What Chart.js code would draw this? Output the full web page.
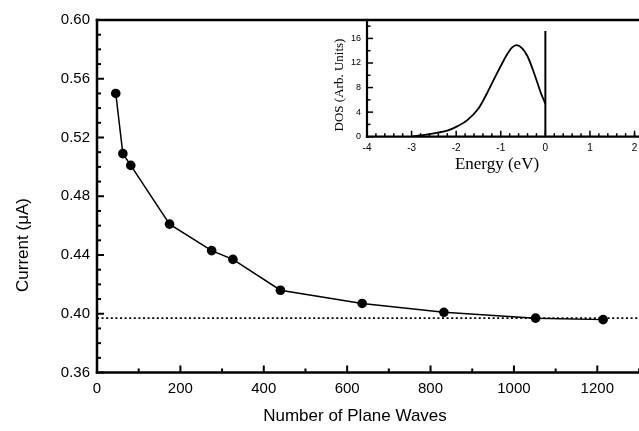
<!DOCTYPE html>
<html lang="en">
<head>
<meta charset="UTF-8">
<title>Current vs Number of Plane Waves</title>
<script src="https://cdn.jsdelivr.net/npm/chart.js"></script>
<style>
  html, body { margin: 0; padding: 0; background: #fff; }
  #wrap { position: relative; width: 639px; height: 431px; overflow: hidden; }
  #mainChart { position: absolute; left: 0; top: 0; }
  #insetChart { position: absolute; left: 300px; top: 0; }
</style>
</head>
<body>
<div id="wrap">
  <canvas id="mainChart" width="639" height="431"></canvas>
  <canvas id="insetChart" width="339" height="180"></canvas>
</div>
<script>
// main plot: current vs number of plane waves
const planeWaves = [45, 62, 81, 174, 275, 326, 440, 636, 832, 1052, 1214];
const current = [0.550, 0.509, 0.501, 0.461, 0.443, 0.437, 0.416, 0.407, 0.401, 0.397, 0.396];
const limitX = [0, 1320];
const limitY = [0.397, 0.397];
const xTicks = [0, 200, 400, 600, 800, 1000, 1200];
const xMinor = [100, 300, 500, 700, 900, 1100, 1300];
const yTicks = [0.36, 0.40, 0.44, 0.48, 0.52, 0.56, 0.60];
const yMinor = [0.37, 0.38, 0.39, 0.41, 0.42, 0.43, 0.45, 0.46, 0.47, 0.49, 0.50, 0.51,
                0.53, 0.54, 0.55, 0.57, 0.58, 0.59];

// inset: density of states
const energy = [-3.0, -2.75, -2.5, -2.2, -2.0, -1.75, -1.5, -1.3, -1.1, -0.95, -0.85, -0.75, -0.64, -0.52, -0.4, -0.25, -0.1, 0];
const dos = [0.05, 0.25, 0.55, 1.0, 1.6, 2.7, 4.6, 7.2, 10.1, 12.2, 13.5, 14.5, 14.9, 14.4, 13.1, 10.3, 7.1, 5.4];
const fermiX = [0, 0];
const fermiY = [0, 17.2];
const eTicks = [-4, -3, -2, -1, 0, 1, 2];
const eMinor = [-3.8, -3.6, -3.4, -3.2, -2.8, -2.6, -2.4, -2.2, -1.8, -1.6, -1.4, -1.2,
                -0.8, -0.6, -0.4, -0.2, 0.2, 0.4, 0.6, 0.8, 1.2, 1.4, 1.6, 1.8, 2.0];
const dosTicks = [0, 4, 8, 12, 16];
const dosMinor = [2, 6, 10, 14, 18];

Chart.defaults.font.family = '"Liberation Sans", Arial, sans-serif';
Chart.defaults.color = '#000';

const toPoints = (xs, ys) => xs.map((v, i) => ({ x: v, y: ys[i] }));

// frame + inward tick marks + axis titles
const frameTicks = {
  id: 'frameTicks',
  afterDraw(chart, args, o) {
    const { ctx, chartArea: a, scales: { x, y } } = chart;
    const line = (x1, y1, x2, y2) => { ctx.beginPath(); ctx.moveTo(x1, y1); ctx.lineTo(x2, y2); ctx.stroke(); };
    ctx.save();
    ctx.strokeStyle = '#000';
    ctx.lineWidth = o.tickWidth;
    o.xMajor.forEach(v => { const p = x.getPixelForValue(v); line(p, a.bottom, p, a.bottom - o.major); });
    o.xMinor.forEach(v => { const p = x.getPixelForValue(v); line(p, a.bottom, p, a.bottom - o.minor); });
    o.yMajor.forEach(v => { const p = y.getPixelForValue(v); line(a.left, p, a.left + o.major, p); });
    o.yMinor.forEach(v => { const p = y.getPixelForValue(v); line(a.left, p, a.left + o.minor, p); });
    ctx.lineWidth = o.frameWidth;
    ctx.lineCap = 'square';
    line(a.left, a.top, a.right + 2, a.top);
    line(a.left, a.top, a.left, a.bottom);
    line(a.left, a.bottom, a.right + 2, a.bottom);
    ctx.fillStyle = '#000';
    ctx.textAlign = 'center';
    ctx.textBaseline = 'middle';
    o.titles.forEach(t => {
      ctx.save();
      ctx.font = t.font;
      ctx.translate(t.x, t.y);
      if (t.rotate) ctx.rotate(-Math.PI / 2);
      ctx.fillText(t.text, 0, 0);
      ctx.restore();
    });
    ctx.restore();
  }
};

// fixed axis sizes so the plot box lands where the reference has it
const fitX = h => s => { s.height = h; s.paddingLeft = 0; s.paddingRight = 0; };
const fitY = w => s => { s.width = w; s.paddingTop = 0; s.paddingBottom = 0; };

new Chart(document.getElementById('mainChart'), {
  type: 'scatter',
  data: {
    datasets: [
      {
        label: 'Current',
        data: toPoints(planeWaves, current),
        showLine: true,
        borderColor: '#000',
        borderWidth: 1.5,
        backgroundColor: '#000',
        pointRadius: 4.8,
        pointBorderWidth: 0
      },
      {
        label: 'Converged',
        data: toPoints(limitX, limitY),
        showLine: true,
        borderColor: '#000',
        borderWidth: 1.6,
        borderDash: [2, 2.6],
        pointRadius: 0
      }
    ]
  },
  options: {
    responsive: false,
    animation: false,
    layout: { autoPadding: false, padding: { top: 20, right: 0, bottom: 0, left: 0 } },
    plugins: {
      legend: { display: false },
      tooltip: { enabled: false },
      frameTicks: {
        tickWidth: 2, frameWidth: 2.5, major: 7, minor: 4,
        xMajor: xTicks, xMinor: xMinor, yMajor: yTicks, yMinor: yMinor,
        titles: [
          { text: 'Current (\u03bcA)', x: 23, y: 245, rotate: true, font: '17px "Liberation Sans", Arial, sans-serif' },
          { text: 'Number of Plane Waves', x: 355, y: 416, font: '17px "Liberation Sans", Arial, sans-serif' }
        ]
      }
    },
    scales: {
      x: {
        type: 'linear',
        min: 0,
        max: 1300,
        afterBuildTicks: s => { s.ticks = xTicks.map(v => ({ value: v })); },
        afterFit: fitX(58.5),
        grid: { display: false, drawTicks: false },
        border: { display: false },
        ticks: { autoSkip: false, maxRotation: 0, padding: 7, font: { size: 15 }, callback: v => String(v) }
      },
      y: {
        type: 'linear',
        min: 0.36,
        max: 0.60,
        afterBuildTicks: s => { s.ticks = yTicks.map(v => ({ value: v })); },
        afterFit: fitY(97),
        grid: { display: false, drawTicks: false },
        border: { display: false },
        ticks: { padding: 7, font: { size: 15 }, callback: v => Number(v).toFixed(2) }
      }
    }
  },
  plugins: [frameTicks]
});

new Chart(document.getElementById('insetChart'), {
  type: 'scatter',
  data: {
    datasets: [
      {
        label: 'DOS',
        data: toPoints(energy, dos),
        showLine: true,
        borderColor: '#000',
        borderWidth: 1.8,
        tension: 0.3,
        pointRadius: 0
      },
      {
        label: 'Fermi level',
        data: toPoints(fermiX, fermiY),
        showLine: true,
        borderColor: '#000',
        borderWidth: 2,
        pointRadius: 0
      }
    ]
  },
  options: {
    responsive: false,
    animation: false,
    layout: { autoPadding: false, padding: { top: 20, right: 0, bottom: 0, left: 0 } },
    plugins: {
      legend: { display: false },
      tooltip: { enabled: false },
      frameTicks: {
        tickWidth: 1.5, frameWidth: 2.2, major: 6, minor: 3.5,
        xMajor: eTicks, xMinor: eMinor, yMajor: dosTicks, yMinor: dosMinor,
        titles: [
          { text: 'DOS (Arb. Units)', x: 40, y: 85, rotate: true, font: '13px "Liberation Serif", "Times New Roman", serif' },
          { text: 'Energy (eV)', x: 197, y: 165, font: '17px "Liberation Serif", "Times New Roman", serif' }
        ]
      }
    },
    scales: {
      x: {
        type: 'linear',
        min: -4,
        max: 2.1,
        afterBuildTicks: s => { s.ticks = eTicks.map(v => ({ value: v })); },
        afterFit: fitX(43.3),
        grid: { display: false, drawTicks: false },
        border: { display: false },
        ticks: { autoSkip: false, maxRotation: 0, padding: 6, font: { size: 10 }, callback: v => String(v) }
      },
      y: {
        type: 'linear',
        min: 0,
        max: 19,
        afterBuildTicks: s => { s.ticks = dosTicks.map(v => ({ value: v })); },
        afterFit: fitY(67),
        grid: { display: false, drawTicks: false },
        border: { display: false },
        ticks: { padding: 6, font: { size: 9 }, callback: v => String(v) }
      }
    }
  },
  plugins: [frameTicks]
});
</script>
</body>
</html>
